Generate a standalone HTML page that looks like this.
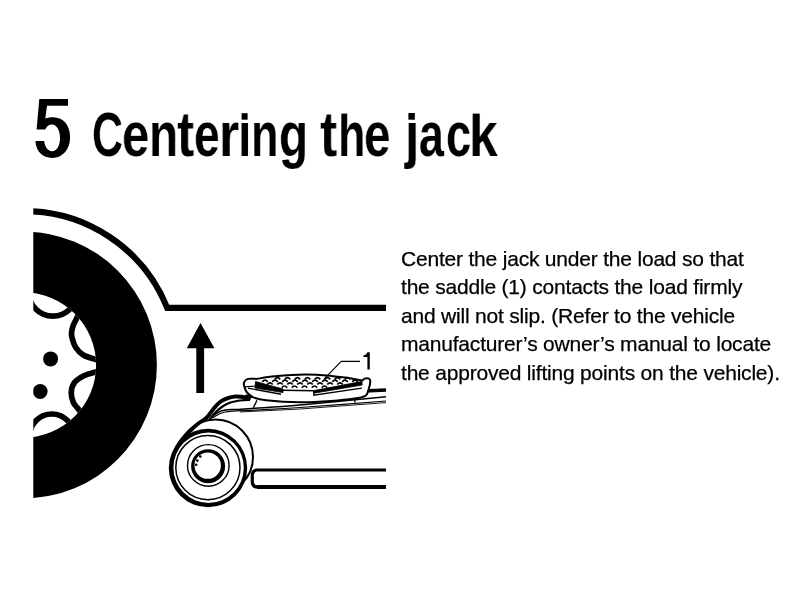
<!DOCTYPE html>
<html><head><meta charset="utf-8">
<style>
html,body{margin:0;padding:0;background:#fff;width:800px;height:600px;overflow:hidden;position:relative}
.tt{position:absolute;left:0;top:0;will-change:transform;-webkit-text-stroke:0.15px #fff;font-family:"Liberation Sans",sans-serif;font-weight:bold;font-size:63px;color:#000;line-height:1;white-space:nowrap;transform-origin:0 0}
.p{position:absolute;left:0;top:0;will-change:transform;-webkit-text-stroke:0.25px #000;font-family:"Liberation Sans",sans-serif;font-size:21px;letter-spacing:-0.2px;color:#000;line-height:28.4px;white-space:nowrap}
svg{position:absolute;left:0;top:0}
</style></head><body>
<div class="tt" style="left:92.48px;top:103px;transform:scaleX(0.680)">C</div>
<div class="tt" style="left:121.61px;top:103px;transform:scaleX(0.778)">e</div>
<div class="tt" style="left:149.10px;top:103px;transform:scaleX(0.756)">n</div>
<div class="tt" style="left:177.26px;top:103px;transform:scaleX(0.820)">t</div>
<div class="tt" style="left:194.23px;top:103px;transform:scaleX(0.734)">e</div>
<div class="tt" style="left:218.92px;top:103px;transform:scaleX(0.820)">r</div>
<div class="tt" style="left:238.22px;top:103px;transform:scaleX(0.775)">i</div>
<div class="tt" style="left:251.19px;top:103px;transform:scaleX(0.713)">n</div>
<div class="tt" style="left:278.74px;top:103px;transform:scaleX(0.754)">g</div>
<div class="tt" style="left:319.99px;top:103px;transform:scaleX(0.820)">t</div>
<div class="tt" style="left:337.62px;top:103px;transform:scaleX(0.712)">h</div>
<div class="tt" style="left:364.42px;top:103px;transform:scaleX(0.756)">e</div>
<div class="tt" style="left:404.71px;top:103px;transform:scaleX(0.815)">j</div>
<div class="tt" style="left:419.00px;top:103px;transform:scaleX(0.709)">a</div>
<div class="tt" style="left:445.53px;top:103px;transform:scaleX(0.716)">c</div>
<div class="tt" style="left:469.41px;top:103px;transform:scaleX(0.820)">k</div>
<div class="p" style="left:401px;top:244.8px">Center the jack under the load so that<br>the saddle (1) contacts the load firmly<br>and will not slip. (Refer to the vehicle<br>manufacturer’s owner’s manual to locate<br>the approved lifting points on the vehicle).</div>
<svg width="800" height="600" viewBox="0 0 800 600">
<g fill="#fff"><rect x="239.5" y="107" width="10" height="15.6"/><rect x="337.5" y="106" width="12" height="7.6"/><rect x="406" y="107" width="11" height="15.6"/><rect x="470.5" y="106" width="13" height="7.6"/></g>
<g fill="#000"><rect x="241.6" y="113.2" width="6" height="6.5"/><rect x="408.4" y="113" width="6.4" height="6.7"/></g>
<path d="M39.3 99.1 L68 99.1 L68 105.8 L47 105.8 L45.3 118.6 C47.5 117.6 50.5 117.3 53.5 117.3 C63.5 117.3 70.1 125.5 70.1 137.3 C70.1 149.5 62.5 158 52.3 158 C43 158 36 152 35.4 141.1 L44.2 141.1 C44.8 147 47.8 151.2 52 151.2 C57 151.2 60 145.5 60 138 C60 130 56.5 124.6 52 124.6 C49 124.6 46.5 126.5 45.2 129.6 L36.6 129.6 Z" fill="#000"/>
<defs>
<clipPath id="crop"><rect x="33.3" y="0" width="767" height="600"/></clipPath>
<clipPath id="inner"><circle cx="23.5" cy="365" r="72.6"/></clipPath>
</defs>
<g clip-path="url(#crop)">
<path d="M 20 211.3 A 153.8 153.8 0 0 1 167.2 307.9 L 386 307.9" fill="none" stroke="#000" stroke-width="6.2"/>
<path fill-rule="evenodd" fill="#000" d="M 23.5 231.6 A 133.4 133.4 0 1 1 23.5 498.4 A 133.4 133.4 0 1 1 23.5 231.6 Z M 23.5 292.4 A 72.6 72.6 0 1 0 23.5 437.6 A 72.6 72.6 0 1 0 23.5 292.4 Z"/>
<g clip-path="url(#inner)" fill="none" stroke="#000" stroke-width="5.7">
<path d="M80.00 309.00 C79.58 310.28 78.60 314.03 77.50 316.70 C76.40 319.37 74.38 322.45 73.40 325.00 C72.42 327.55 71.82 329.83 71.60 332.00 C71.38 334.17 71.40 335.42 72.10 338.00 C72.80 340.58 73.93 344.67 75.80 347.50 C77.67 350.33 80.10 353.05 83.30 355.00 C86.50 356.95 91.55 358.20 95.00 359.20 C98.45 360.20 102.50 360.70 104.00 361.00"/>
<path d="M104.00 370.00 C102.45 370.38 98.03 371.35 94.70 372.30 C91.37 373.25 87.33 374.03 84.00 375.70 C80.67 377.37 76.82 379.63 74.70 382.30 C72.58 384.97 71.53 388.37 71.30 391.70 C71.07 395.03 71.97 399.20 73.30 402.30 C74.63 405.40 77.35 407.68 79.30 410.30 C81.25 412.92 84.05 416.72 85.00 418.00"/>
<circle cx="52.9" cy="291.8" r="24.3"/>
<circle cx="51.8" cy="436.2" r="22.2"/>
</g>
<circle cx="50.6" cy="358.9" r="7.5" fill="#000"/>
<circle cx="40.2" cy="391.5" r="7.4" fill="#000"/>
</g>
<path d="M200.5 323 L214.4 348.3 L204.1 348.3 L204.1 393 L196.3 393 L196.3 348.3 L186.8 348.3 Z" fill="#000"/>
<path d="M386 470 L256.5 470 Q253 470.5 252.3 474.5 L252.3 482.5 Q252.8 487 257.5 487 L386 487" stroke="#000" stroke-width="3.2" fill="#fff"/>
<path d="M257 487 L386 487" fill="none" stroke="#000" stroke-width="4" />
<circle cx="215.5" cy="457" r="37.5" stroke="#000" stroke-width="2" fill="#fff"/>
<path d="M245 396.5 L386 390" fill="none" stroke="#000" stroke-width="3.6" />
<path d="M209.25 418.75 C210.62 417.75 214.88 414.19 217.50 412.75 C220.12 411.31 221.88 410.66 225.00 410.10 C228.12 409.54 231.25 409.71 236.25 409.40 C241.25 409.09 244.38 408.98 255.00 408.25 C265.62 407.52 278.17 406.93 300.00 405.00 C321.83 403.07 371.67 398.08 386.00 396.70" fill="none" stroke="#000" stroke-width="1.5" />
<path d="M212.25 418.00 C214.38 417.00 217.88 413.32 225.00 412.00 C232.12 410.68 242.50 410.85 255.00 410.10 C267.50 409.35 278.17 409.02 300.00 407.50 C321.83 405.98 371.67 402.08 386.00 401.00" fill="none" stroke="#000" stroke-width="1.2" />
<path d="M240 412 L300 409 L386 402.6" fill="none" stroke="#000" stroke-width="0.9" />
<path d="M174.80 452.00 C175.50 450.63 177.30 446.47 179.00 443.80 C180.70 441.13 182.92 438.38 185.00 436.00 C187.08 433.62 189.28 431.58 191.50 429.50 C193.72 427.42 195.84 425.42 198.30 423.50 C200.76 421.58 203.68 420.50 206.25 418.00 C208.82 415.50 211.50 411.12 213.75 408.50 C216.00 405.88 217.62 403.95 219.75 402.30 C221.88 400.65 224.12 399.55 226.50 398.60 C228.88 397.65 231.50 396.90 234.00 396.60 C236.50 396.30 239.00 396.48 241.50 396.80 C244.00 397.12 247.75 398.22 249.00 398.50" fill="none" stroke="#000" stroke-width="3.9" stroke-linecap="round"/>
<path d="M209.50 419.50 C210.50 418.28 213.33 414.37 215.50 412.20 C217.67 410.03 220.25 408.03 222.50 406.50 C224.75 404.97 226.58 403.92 229.00 403.00 C231.42 402.08 234.54 401.47 237.00 401.00 C239.46 400.53 241.58 400.38 243.75 400.20 C245.92 400.02 248.96 399.95 250.00 399.90" fill="none" stroke="#000" stroke-width="2.2" />
<circle cx="208" cy="468" r="38" fill="#fff"/>
<path fill-rule="evenodd" fill="#000" d="M168.8 468 A39.2 39.2 0 1 0 247.2 468 A39.2 39.2 0 1 0 168.8 468 Z M173.4 467.7 A35.2 35.2 0 1 0 243.8 467.7 A35.2 35.2 0 1 0 173.4 467.7 Z"/>
<circle cx="207.9" cy="467.6" r="32.1" stroke="#000" stroke-width="1.5" fill="none"/>
<circle cx="208.3" cy="465.4" r="20.8" stroke="#000" stroke-width="1.4" fill="none"/>
<path fill-rule="evenodd" fill="#000" d="M191.1 466.3 A17 17 0 1 0 225.1 466.3 A17 17 0 1 0 191.1 466.3 Z M194.5 465.6 A13.2 13.2 0 1 0 220.9 465.6 A13.2 13.2 0 1 0 194.5 465.6 Z"/>
<g fill="#000"><circle cx="200.3" cy="456.5" r="1.3"/><circle cx="197.3" cy="460.6" r="1.3"/><circle cx="196.2" cy="464.8" r="1.3"/></g>
<path d="M257 400.3 L253.3 407.8" fill="none" stroke="#000" stroke-width="1.4" />
<path d="M354.5 397.5 L355 402.5" fill="none" stroke="#000" stroke-width="1.4" />
<path d="M256.60 378.90 C255.17 378.90 250.10 378.30 248.00 378.90 C245.90 379.50 244.60 381.18 244.00 382.50 C243.40 383.82 243.90 385.13 244.40 386.80 C244.90 388.47 245.57 390.77 247.00 392.50 C248.43 394.23 249.83 395.92 253.00 397.20 C256.17 398.48 258.17 399.37 266.00 400.20 C273.83 401.03 289.17 402.07 300.00 402.20 C310.83 402.33 321.93 401.60 331.00 401.00 C340.07 400.40 348.67 399.47 354.40 398.60 C360.13 397.73 363.13 397.03 365.40 395.80 C367.67 394.57 367.27 393.00 368.00 391.20 C368.73 389.40 369.43 386.75 369.80 385.00 C370.17 383.25 370.35 381.77 370.20 380.70 C370.05 379.63 369.85 378.95 368.90 378.60 C367.95 378.25 365.67 378.33 364.50 378.60 C363.33 378.87 364.53 380.28 361.90 380.20 C359.27 380.12 353.82 378.82 348.70 378.10 C343.58 377.38 338.48 376.48 331.20 375.90 C323.92 375.32 314.37 374.53 305.00 374.60 C295.63 374.67 283.07 375.58 275.00 376.30 C266.93 377.02 259.67 378.47 256.60 378.90 Z" fill="#fff" stroke="#000" stroke-width="2"/>
<path d="M255.5 381.5 L283 389 L283 392.6 L255 388 Z" fill="#000" stroke="#000" stroke-width="0.8"/>
<path d="M313.75 390.6 L361 381.6 L361.9 385.1 L313.75 393.2 Z" fill="#000" stroke="#000" stroke-width="0.8"/>
<path d="M283 390.2 L313.75 390.8" fill="none" stroke="#000" stroke-width="1.6" />
<path d="M247.9 388.1 L281 394.2" fill="none" stroke="#000" stroke-width="1.4" />
<path d="M244.4 386.8 L256 386" fill="none" stroke="#000" stroke-width="1.2" />
<path d="M361.9 380.2 L361.9 385.1" fill="none" stroke="#000" stroke-width="1.2" />
<path d="M313.75 391 L313.75 395.2 L361.9 388.2" fill="none" stroke="#000" stroke-width="1.2" />
<path d="M274.8 379.4 Q277.5 376.0 280.2 379.4 M284.8 379.4 Q287.5 376.0 290.2 379.4 M294.8 379.4 Q297.5 376.0 300.2 379.4 M304.8 379.4 Q307.5 376.0 310.2 379.4 M314.8 379.4 Q317.5 376.0 320.2 379.4 M324.8 379.4 Q327.5 376.0 330.2 379.4 M334.8 379.4 Q337.5 376.0 340.2 379.4 M344.8 379.4 Q347.5 376.0 350.2 379.4 M262.3 381.9 Q265.0 378.5 267.7 381.9 M272.3 381.9 Q275.0 378.5 277.7 381.9 M282.3 381.9 Q285.0 378.5 287.7 381.9 M292.3 381.9 Q295.0 378.5 297.7 381.9 M302.3 381.9 Q305.0 378.5 307.7 381.9 M312.3 381.9 Q315.0 378.5 317.7 381.9 M322.3 381.9 Q325.0 378.5 327.7 381.9 M332.3 381.9 Q335.0 378.5 337.7 381.9 M342.3 381.9 Q345.0 378.5 347.7 381.9 M352.3 381.9 Q355.0 378.5 357.7 381.9 M267.3 384.5 Q270.0 381.1 272.7 384.5 M277.3 384.5 Q280.0 381.1 282.7 384.5 M287.3 384.5 Q290.0 381.1 292.7 384.5 M297.3 384.5 Q300.0 381.1 302.7 384.5 M307.3 384.5 Q310.0 381.1 312.7 384.5 M317.3 384.5 Q320.0 381.1 322.7 384.5 M327.3 384.5 Q330.0 381.1 332.7 384.5 M337.3 384.5 Q340.0 381.1 342.7 384.5 M281.8 387.7 Q284.5 384.3 287.2 387.7 M291.8 387.7 Q294.5 384.3 297.2 387.7 M301.8 387.7 Q304.5 384.3 307.2 387.7 M311.8 387.7 Q314.5 384.3 317.2 387.7 M321.8 387.7 Q324.5 384.3 327.2 387.7" fill="none" stroke="#000" stroke-width="1.7"/>
<path d="M323.75 379.4 L341.25 361.4 L360 361.4" fill="none" stroke="#000" stroke-width="1.1" />
<path d="M367.4 352.3 L369.8 352.3 L369.8 369.6 L367.4 369.6 L367.4 357.1 L363.4 357.1 L363.4 355.4 Q366.3 355.3 367.4 352.3 Z" fill="#000"/>
</svg>
</body></html>
